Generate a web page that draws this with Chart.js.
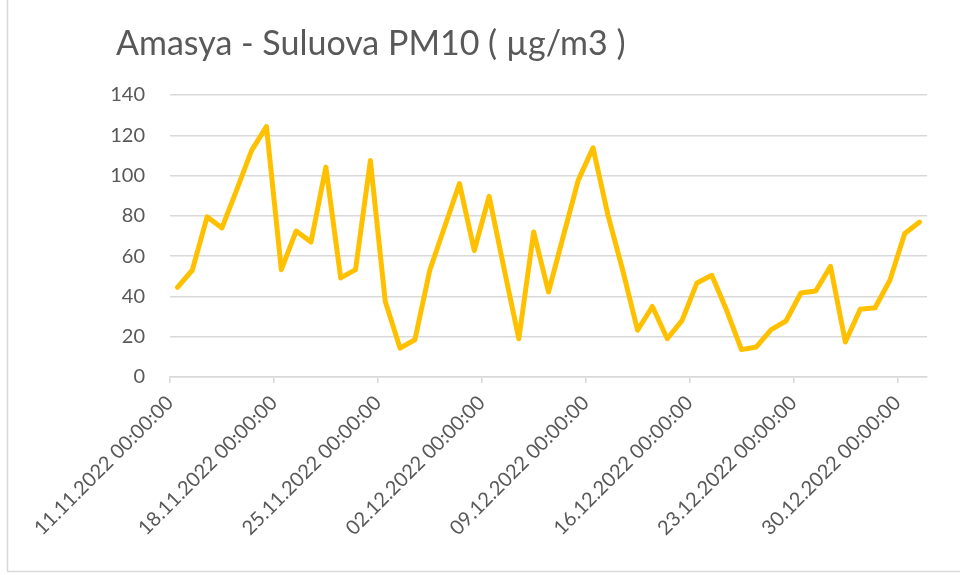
<!DOCTYPE html>
<html>
<head>
<meta charset="utf-8">
<script src="https://cdn.jsdelivr.net/npm/chart.js@4/dist/chart.umd.min.js"></script>
<style>
  html, body { margin: 0; padding: 0; background: #ffffff; }
  #wrap { width: 960px; height: 575px; position: relative; }
</style>
</head>
<body>
<div id="wrap"><canvas id="c" width="960" height="575"></canvas></div>
<script>
const chartTitle = 'Amasya - Suluova PM10 ( µg/m3 )';

const dates = [
  '11.11.2022','12.11.2022','13.11.2022','14.11.2022','15.11.2022','16.11.2022','17.11.2022',
  '18.11.2022','19.11.2022','20.11.2022','21.11.2022','22.11.2022','23.11.2022','24.11.2022',
  '25.11.2022','26.11.2022','27.11.2022','28.11.2022','29.11.2022','30.11.2022','01.12.2022',
  '02.12.2022','03.12.2022','04.12.2022','05.12.2022','06.12.2022','07.12.2022','08.12.2022',
  '09.12.2022','10.12.2022','11.12.2022','12.12.2022','13.12.2022','14.12.2022','15.12.2022',
  '16.12.2022','17.12.2022','18.12.2022','19.12.2022','20.12.2022','21.12.2022','22.12.2022',
  '23.12.2022','24.12.2022','25.12.2022','26.12.2022','27.12.2022','28.12.2022','29.12.2022',
  '30.12.2022','31.12.2022'
];

const pm10 = [
  44.5, 53, 79.5, 74, 93, 112.5, 124.3,
  53.3, 72.5, 67, 104.2, 49.2, 53.3, 107.5,
  37.6, 14.3, 18.5, 53, 74.5, 96, 62.8,
  89.7, 54, 19, 72, 42.2, 70, 97.6,
  113.8, 80.5, 53, 23.2, 35, 19, 28.1,
  46.7, 50.5, 33.1, 13.6, 14.9, 23.5, 27.8,
  41.7, 42.7, 54.9, 17.4, 33.6, 34.4, 48,
  71.2, 76.9
];

const tickLabels = [
  '11.11.2022 00:00:00', '18.11.2022 00:00:00', '25.11.2022 00:00:00', '02.12.2022 00:00:00',
  '09.12.2022 00:00:00', '16.12.2022 00:00:00', '23.12.2022 00:00:00', '30.12.2022 00:00:00'
];

const yTicks = [0, 20, 40, 60, 80, 100, 120, 140];

const points = pm10.map((v, i) => ({ x: i, y: v }));
const tickIndex = tickLabels.map(l => dates.indexOf(l.split(' ')[0]));

const textColor = '#595959';
const gridColor = '#d9d9d9';
const fontFamily = 'Lato, "Open Sans", sans-serif';

const frame = {
  id: 'frame',
  beforeDraw(chart) {
    const ctx = chart.ctx;
    ctx.save();
    ctx.fillStyle = '#ffffff';
    ctx.fillRect(0, 0, chart.width, chart.height);
    ctx.strokeStyle = gridColor;
    ctx.lineWidth = 1.5;
    ctx.beginPath();
    ctx.moveTo(7.5, 0);
    ctx.lineTo(7.5, 571.5);
    ctx.lineTo(chart.width, 571.5);
    ctx.stroke();
    ctx.restore();
  },
  afterDraw(chart) {
    const ctx = chart.ctx;
    ctx.save();
    ctx.fillStyle = textColor;
    ctx.font = '34px ' + fontFamily;
    ctx.textAlign = 'left';
    ctx.textBaseline = 'middle';
    ctx.fillText(chartTitle, 116, 44.4);
    ctx.restore();
  }
};

new Chart(document.getElementById('c'), {
  type: 'line',
  data: {
    datasets: [{
      label: 'PM10',
      data: points,
      borderColor: '#FFC000',
      backgroundColor: '#FFC000',
      borderWidth: 5,
      pointRadius: 0,
      tension: 0,
      borderJoinStyle: 'round',
      borderCapStyle: 'round'
    }]
  },
  options: {
    responsive: false,
    animation: false,
    layout: { padding: { left: 60, right: 33, top: 95, bottom: 0 } },
    plugins: {
      legend: { display: false },
      tooltip: { enabled: false },
      title: { display: false }
    },
    scales: {
      x: {
        type: 'linear',
        min: -0.5,
        max: dates.length - 0.5,
        afterBuildTicks(scale) {
          scale.ticks = tickIndex.map(i => ({ value: i - 0.5 }));
        },
        afterFit(scale) { scale.height = 198; },
        grid: {
          display: true,
          drawOnChartArea: false,
          drawTicks: true,
          tickLength: 6,
          color: gridColor,
          lineWidth: 1.5
        },
        border: { display: true, color: gridColor, width: 1.5 },
        ticks: {
          autoSkip: false,
          maxRotation: 45,
          minRotation: 45,
          color: textColor,
          padding: 8,
          font: { family: fontFamily, size: 20 },
          callback(value) {
            const idx = tickIndex.indexOf(Math.round(value + 0.5));
            return idx >= 0 ? tickLabels[idx] : '';
          }
        }
      },
      y: {
        min: 0,
        max: 140,
        afterBuildTicks(scale) {
          scale.ticks = yTicks.map(v => ({ value: v }));
        },
        afterFit(scale) { scale.width = 110; },
        grid: {
          display: true,
          drawTicks: false,
          color: gridColor,
          lineWidth: 1.5
        },
        border: { display: false },
        ticks: {
          color: textColor,
          padding: 25,
          font: { family: fontFamily, size: 20 }
        }
      }
    }
  },
  plugins: [frame]
});
</script>
</body>
</html>
